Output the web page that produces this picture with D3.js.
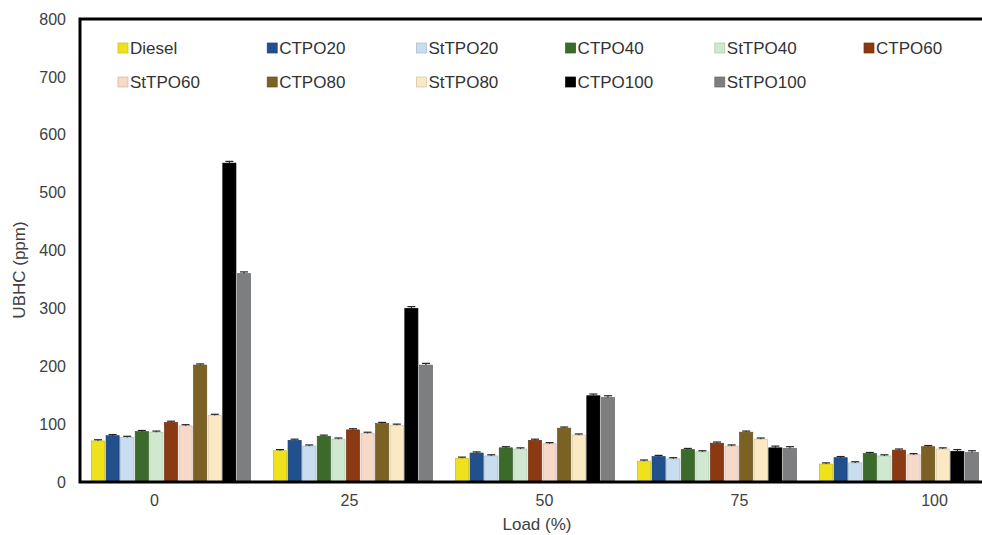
<!DOCTYPE html>
<html>
<head>
<meta charset="utf-8">
<script src="https://cdn.jsdelivr.net/npm/d3@7"></script>
<style>
  body { margin: 0; background: #fff; }
  text { font-family: "Liberation Sans", Arial, sans-serif; }
</style>
</head>
<body>
<script>
// load levels (x categories)
const loads = ["0", "25", "50", "75", "100"];
const seriesNames = ["Diesel", "CTPO20", "StTPO20", "CTPO40", "StTPO40", "CTPO60",
                     "StTPO60", "CTPO80", "StTPO80", "CTPO100", "StTPO100"];

// UBHC (ppm) per load
const diesel   = [71, 54, 41, 36, 31];
const ctpo20   = [80, 72, 50, 44, 42];
const sttpo20  = [77, 62, 45, 40, 33];
const ctpo40   = [87, 79, 59, 56, 49];
const sttpo40  = [86, 74, 57, 52, 45];
const ctpo60   = [103, 90, 72, 67, 55];
const sttpo60  = [97, 84, 66, 62, 47];
const ctpo80   = [202, 101, 93, 86, 61];
const sttpo80  = [115, 98, 81, 74, 57];
const ctpo100  = [551, 300, 149, 59, 53];
const sttpo100 = [360, 202, 146, 58, 51];

// error bar half-widths per series
const seriesErr = [2, 2, 2, 2, 2, 2, 2, 2, 2, 3, 3];

const yTicks = [0, 100, 200, 300, 400, 500, 600, 700, 800];

const colors = ["#efe21c", "#22508c", "#c9ddf1", "#3b6a2b", "#d0e8cf", "#8b3913",
                "#f7d9c9", "#7b6124", "#fbe9c3", "#000000", "#7d7e80"];

const allValues = [diesel, ctpo20, sttpo20, ctpo40, sttpo40, ctpo60,
                   sttpo60, ctpo80, sttpo80, ctpo100, sttpo100];

const width = 982, height = 535;

const svg = d3.select("body")
  .append("svg")
  .attr("width", width)
  .attr("height", height);

const plotLeft = 80, plotTop = 19, plotBottom = 482, plotRight = 990;

const y = d3.scaleLinear().domain([0, 800]).range([plotBottom, plotTop]);

const x0 = d3.scaleBand().domain(loads).range([plotLeft, plotRight])
  .paddingInner(0.126).paddingOuter(0.063);
const x1 = d3.scaleBand().domain(seriesNames).range([0, x0.bandwidth()]).paddingInner(0.1);

// tick labels sit a bit wider apart than the bar groups in the original
const xLabel = d3.scaleBand().domain(loads).range([57, 1032]);

// bars
const groups = svg.selectAll(".series")
  .data(seriesNames)
  .enter()
  .append("g")
  .attr("class", "series");

groups.each(function (name, si) {
  const g = d3.select(this);
  const vals = allValues[si];
  const c = colors[si];
  g.selectAll("rect")
    .data(vals)
    .enter()
    .append("rect")
    .attr("x", (d, i) => x0(loads[i]) + x1(name))
    .attr("y", d => y(d))
    .attr("width", x1.bandwidth())
    .attr("height", d => y(0) - y(d))
    .attr("fill", c)
    .attr("stroke", d3.color(c).darker(0.5))
    .attr("stroke-width", 0.7);

  // error bars
  const e = seriesErr[si];
  const cx = (d, i) => x0(loads[i]) + x1(name) + x1.bandwidth() / 2;
  g.selectAll("line.err")
    .data(vals)
    .enter()
    .append("line")
    .attr("class", "err")
    .attr("x1", cx).attr("x2", cx)
    .attr("y1", d => y(d + e)).attr("y2", d => y(d))
    .attr("stroke", "#222").attr("stroke-width", 1);
  g.selectAll("line.cap")
    .data(vals)
    .enter()
    .append("line")
    .attr("class", "cap")
    .attr("x1", (d, i) => cx(d, i) - 4).attr("x2", (d, i) => cx(d, i) + 4)
    .attr("y1", d => y(d + e)).attr("y2", d => y(d + e))
    .attr("stroke", "#222").attr("stroke-width", 1.2);
});

// frame (top, left, bottom)
svg.append("path")
  .attr("d", `M${plotRight + 10},${plotTop} H${plotLeft} V${plotBottom} H${plotRight + 10}`)
  .attr("fill", "none")
  .attr("stroke", "#000")
  .attr("stroke-width", 3);

// y axis labels
const yAxis = svg.append("g")
  .attr("transform", `translate(${plotLeft},0)`)
  .call(d3.axisLeft(y).tickValues(yTicks).tickSize(0).tickPadding(14));
yAxis.select(".domain").remove();
yAxis.selectAll("text")
  .attr("font-size", 16)
  .attr("fill", "#404040")
  .style("font-family", "'Liberation Sans', Arial, sans-serif");

// x axis labels
const xAxis = svg.append("g")
  .attr("transform", `translate(0,${plotBottom})`)
  .call(d3.axisBottom(xLabel).tickSize(0).tickPadding(13));
xAxis.select(".domain").remove();
xAxis.selectAll("text")
  .attr("font-size", 16)
  .attr("fill", "#404040")
  .style("font-family", "'Liberation Sans', Arial, sans-serif");

// axis titles
svg.append("text")
  .attr("x", 537)
  .attr("y", 530)
  .attr("text-anchor", "middle")
  .attr("font-size", 17)
  .attr("fill", "#404040")
  .text("Load (%)");

svg.append("text")
  .attr("transform", "translate(25,270) rotate(-90)")
  .attr("text-anchor", "middle")
  .attr("font-size", 17)
  .attr("fill", "#404040")
  .text("UBHC (ppm)");

// legend
const legend = svg.append("g");
const item = legend.selectAll(".item")
  .data(seriesNames)
  .enter()
  .append("g")
  .attr("class", "item")
  .attr("transform", (d, i) => `translate(${118 + (i % 6) * 149.2},${i < 6 ? 48 : 82})`);

item.append("rect")
  .attr("x", 0)
  .attr("y", -5)
  .attr("width", 10)
  .attr("height", 10)
  .attr("fill", (d, i) => colors[i])
  .attr("stroke", (d, i) => d3.color(colors[i]).darker(0.5))
  .attr("stroke-width", 0.7);

item.append("text")
  .attr("x", 12)
  .attr("dy", "0.36em")
  .attr("font-size", 17)
  .attr("fill", "#333")
  .text(d => d);
</script>
</body>
</html>
